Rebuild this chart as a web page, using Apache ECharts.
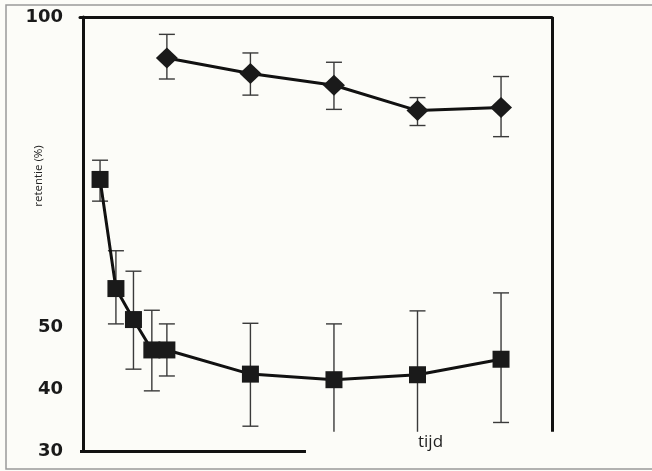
<!DOCTYPE html>
<html>
<head>
<meta charset="utf-8">
<script src="https://cdn.jsdelivr.net/npm/echarts@6/dist/echarts.min.js"></script>
<style>
html,body{margin:0;padding:0;background:#fcfcf8;}
#chart{width:652px;height:471px;}
</style>
</head>
<body>
<div id="chart"></div>
<script>
// time positions (arbitrary units)
const squareTime = [0.2, 0.39, 0.6, 0.82, 1, 2, 3, 4, 5];
const squareMean = [73.8, 56.2, 51.2, 46.3, 46.3, 42.4, 41.5, 42.3, 44.8];
const squareLow  = [70.3, 50.5, 43.2, 39.7, 42.1, 34.0, 33.0, 33.1, 34.6];
const squareHigh = [76.9, 62.3, 59.0, 52.7, 50.5, 50.6, 50.5, 52.6, 55.5];

const diamondTime = [1, 2, 3, 4, 5];
const diamondMean = [93.4, 90.9, 89.0, 84.9, 85.4];
const diamondLow  = [90.0, 87.4, 85.1, 82.5, 80.7];
const diamondHigh = [97.2, 94.2, 92.7, 87.0, 90.4];

const yTickLabels = [30, 40, 50, 100];
const yTitle = 'retentie (%)';
const xTitle = 'tijd';

const xMin = -0.04, xMax = 5.61, yMin = 30, yMax = 100;
const clipLow = 33.1;   // error bars are cut off here in the picture
const bottomLineEnd = 2.665;

function pairs(xs, ys) { return xs.map((x, i) => [x, ys[i]]); }
function errData(xs, lo, hi) { return xs.map((x, i) => [x, lo[i], hi[i]]); }

function errorRender(params, api) {
  const x = api.value(0);
  const lo = Math.max(api.value(1), clipLow);
  const hi = api.value(2);
  const pLo = api.coord([x, lo]);
  const pHi = api.coord([x, hi]);
  const cap = 8;
  const st = { stroke: '#3a3a3a', lineWidth: 1.4 };
  const children = [
    { type: 'line', shape: { x1: pHi[0], y1: pHi[1], x2: pLo[0], y2: pLo[1] }, style: st },
    { type: 'line', shape: { x1: pHi[0] - cap, y1: pHi[1], x2: pHi[0] + cap, y2: pHi[1] }, style: st }
  ];
  if (api.value(1) > clipLow + 0.5) {
    children.push({ type: 'line', shape: { x1: pLo[0] - cap, y1: pLo[1], x2: pLo[0] + cap, y2: pLo[1] }, style: st });
  }
  return { type: 'group', children };
}

const chart = echarts.init(document.getElementById('chart'));
chart.setOption({
  backgroundColor: '#fcfcf8',
  animation: false,
  grid: { left: 80, right: 100, top: 17, bottom: 20 },
  xAxis: [
    { type: 'value', min: xMin, max: xMax, show: true,
      axisLine: { show: false }, axisTick: { show: false }, axisLabel: { show: false }, splitLine: { show: false } },
    { type: 'value', min: xMin, max: xMax, position: 'top',
      axisLine: { show: true, lineStyle: { color: '#111', width: 3 } },
      axisTick: { show: false }, axisLabel: { show: false }, splitLine: { show: false } }
  ],
  yAxis: {
    type: 'value', min: yMin, max: yMax, interval: 10,
    axisLine: { show: true, lineStyle: { color: '#111', width: 3 } },
    axisTick: { show: false },
    splitLine: { show: false },
    axisLabel: {
      margin: 17,
      fontFamily: 'DejaVu Sans', fontWeight: 'bold', fontSize: 18, color: '#1a1a1a',
      formatter: v => yTickLabels.indexOf(v) >= 0 ? String(v) : ''
    }
  },
  graphic: [
    { type: 'polyline', shape: { points: [[720, 5], [6, 5], [6, 469], [720, 469]] },
      style: { fill: 'none', stroke: '#999', lineWidth: 1.5 }, z: -1 },
    { type: 'text', x: 39, y: 176, rotation: Math.PI / 2,
      style: { text: yTitle, fontFamily: 'Open Sans', fontSize: 11.5, fill: '#222', align: 'center', verticalAlign: 'middle' } },
    { type: 'text', x: 418, y: 442,
      style: { text: xTitle, fontFamily: 'Open Sans', fontSize: 17, fill: '#222', align: 'left', verticalAlign: 'middle' } }
  ],
  series: [
    { type: 'custom', name: 'err-sq', renderItem: errorRender, data: errData(squareTime, squareLow, squareHigh), z: 1, silent: true },
    { type: 'custom', name: 'err-di', renderItem: errorRender, data: errData(diamondTime, diamondLow, diamondHigh), z: 1, silent: true },
    { type: 'line', name: 'vierkant', data: pairs(squareTime, squareMean), z: 3,
      symbol: 'rect', symbolSize: 17, itemStyle: { color: '#1a1a1a' },
      lineStyle: { color: '#111', width: 3 },
      markLine: {
        silent: true, symbol: 'none', label: { show: false },
        lineStyle: { color: '#111', width: 3, type: 'solid' },
        data: [
          [{ coord: [xMin, yMin] }, { coord: [bottomLineEnd, yMin] }],
          [{ coord: [xMax, yMax] }, { coord: [xMax, clipLow] }]
        ]
      } },
    { type: 'line', name: 'ruit', data: pairs(diamondTime, diamondMean), z: 3,
      symbol: 'diamond', symbolSize: [22, 21], itemStyle: { color: '#1a1a1a' },
      lineStyle: { color: '#111', width: 3 } }
  ]
});
</script>
</body>
</html>
